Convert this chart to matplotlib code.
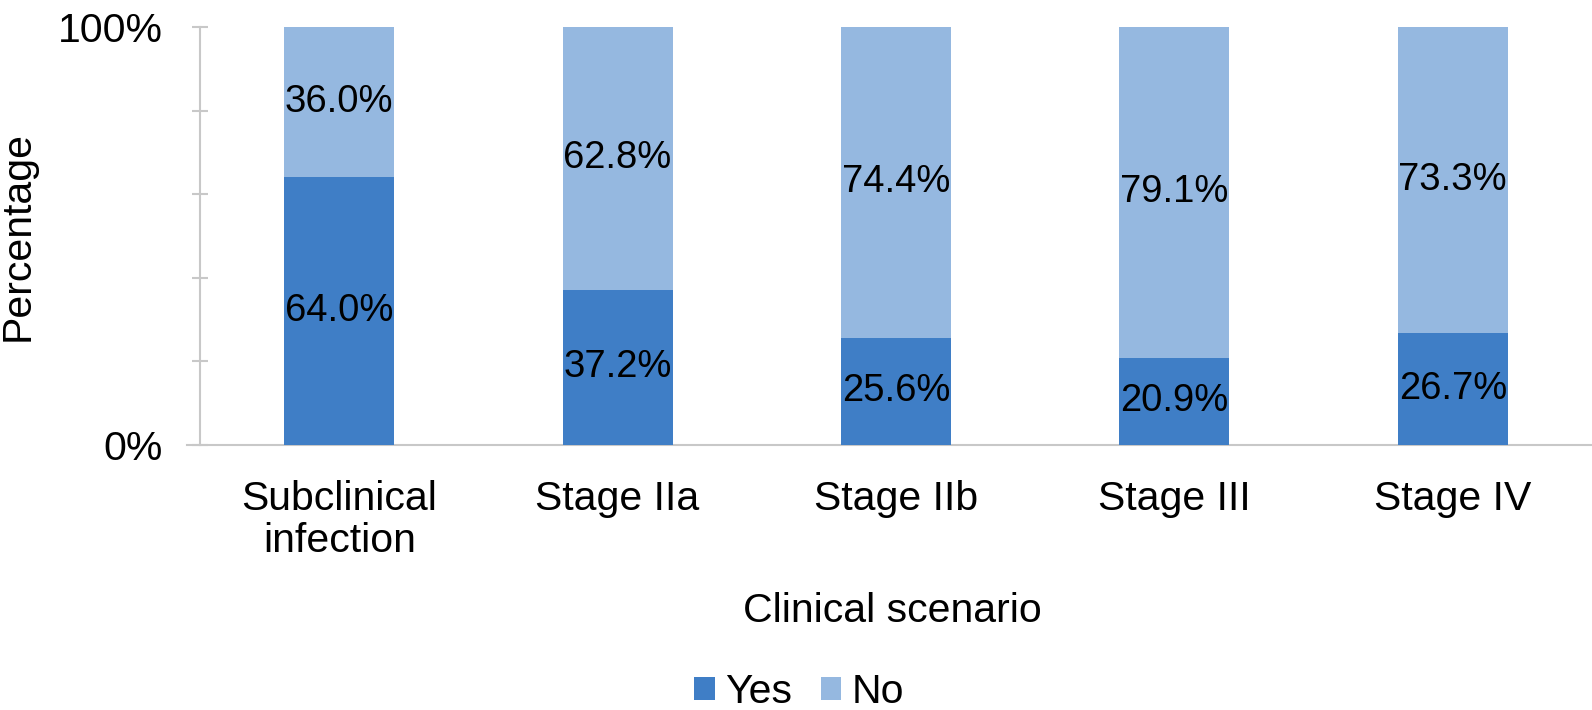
import matplotlib
matplotlib.use("Agg")
import matplotlib.pyplot as plt
from matplotlib.lines import Line2D
import numpy as np

categories = ["Subclinical\ninfection", "Stage IIa", "Stage IIb", "Stage III", "Stage IV"]
yes_vals = [64.0, 37.2, 25.6, 20.9, 26.7]
no_vals = [36.0, 62.8, 74.4, 79.1, 73.3]
series_names = ["Yes", "No"]
colors = ["#3F7EC6", "#95B8E0"]

plt.rcParams['font.family'] = ['Liberation Sans', 'DejaVu Sans']
FS = 29.5
FS_DATA = 27.5

fig = plt.figure(figsize=(15.92, 7.10), dpi=100)
W, H = 1592, 710
AX_W, AX_H = 1592 - 200, 445 - 27
ax = fig.add_axes([200 / W, 1 - 445 / H, AX_W / W, AX_H / H])

x = np.arange(len(categories))
bw = 0.395
b1 = ax.bar(x, yes_vals, bw, color=colors[0], label=series_names[0], zorder=2)
b2 = ax.bar(x, no_vals, bw, bottom=yes_vals, color=colors[1], label=series_names[1], zorder=2)

for i in range(len(categories)):
    ax.text(x[i], yes_vals[i] / 2, f"{yes_vals[i]:.1f}%", ha='center', va='center',
            fontsize=FS_DATA, color='black', zorder=3)
    ax.text(x[i], yes_vals[i] + no_vals[i] / 2, f"{no_vals[i]:.1f}%", ha='center', va='center',
            fontsize=FS_DATA, color='black', zorder=3)

ax.set_xlim(-0.5, len(categories) - 0.5)
ax.set_ylim(0, 100)

for s in ['top', 'right', 'bottom']:
    ax.spines[s].set_visible(False)
ax.spines['left'].set_color('#C8C8C8')
ax.spines['left'].set_linewidth(1.5)

ax.add_line(Line2D([-0.009, 1.0], [0, 0], transform=ax.transAxes, color='#C8C8C8',
                   lw=1.5, clip_on=False, zorder=1))

ax.set_yticks([0, 20, 40, 60, 80, 100])
ax.set_yticklabels(["0%", "", "", "", "", "100%"])
ax.tick_params(axis='y', direction='inout', length=11.5, width=1.5, color='#C8C8C8',
               labelsize=FS, pad=21)
ax.set_xticks(x)
ax.set_xticklabels(categories, fontsize=FS, linespacing=1.15)
ax.tick_params(axis='x', length=0, pad=25)

ax.set_ylabel("Percentage", fontsize=FS)
ax.yaxis.set_label_coords((37 - 200) / AX_W, 0.5)
ax.set_xlabel("Clinical scenario", fontsize=FS)
ax.xaxis.set_label_coords((892 - 200) / AX_W, -(592 - 445) / AX_H)

leg = fig.legend(handles=[b1, b2], labels=series_names, loc='center',
                 bbox_to_anchor=(799 / W, 1 - 692 / H), ncol=2, frameon=False,
                 fontsize=FS, handlelength=0.5, handleheight=0.5, handletextpad=0.25,
                 columnspacing=0.7, borderpad=0.1)

fig.savefig("out.png", dpi=100)
